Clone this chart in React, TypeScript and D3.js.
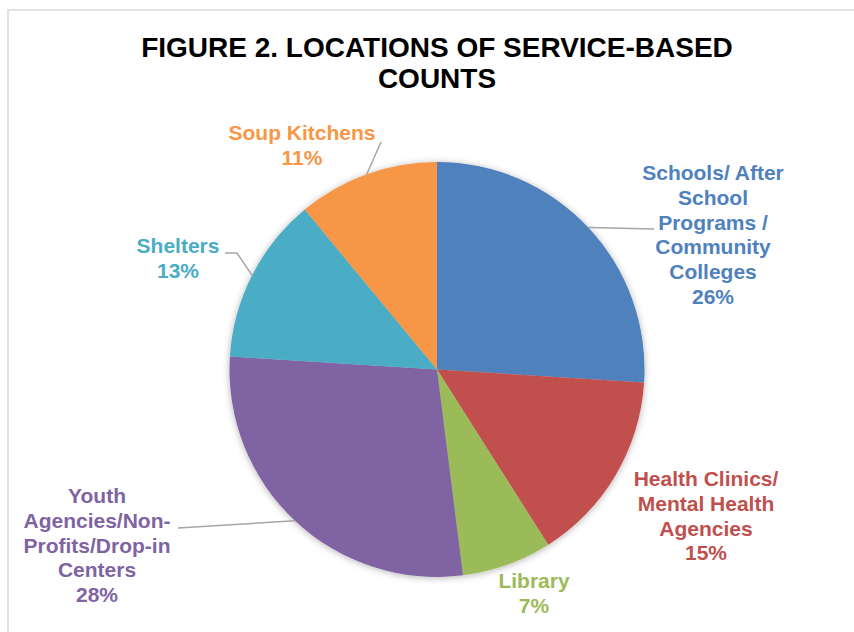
import React from "react";
import * as d3 from "d3";

const categories = [
  "Schools/ After School Programs / Community Colleges",
  "Health Clinics/ Mental Health Agencies",
  "Library",
  "Youth Agencies/Non-Profits/Drop-in Centers",
  "Shelters",
  "Soup Kitchens",
];
const values = [26, 15, 7, 28, 13, 11];
const labelLines = [
  ["Schools/ After", "School", "Programs /", "Community", "Colleges"],
  ["Health Clinics/", "Mental Health", "Agencies"],
  ["Library"],
  ["Youth", "Agencies/Non-", "Profits/Drop-in", "Centers"],
  ["Shelters"],
  ["Soup Kitchens"],
];
const colors = ["#4F81BD", "#C0504D", "#9BBB59", "#8064A2", "#4BACC6", "#F79646"];
const titleLines = ["FIGURE 2. LOCATIONS OF SERVICE-BASED", "COUNTS"];

// layout: label centre x, first baseline y, leader-line path end points
const labelLayout = [
  { x: 713, y: 180, leader: [[654, 229]] },
  { x: 706, y: 486, leader: null },
  { x: 534, y: 588, leader: null },
  { x: 97, y: 503, leader: [[178, 528]] },
  { x: 178, y: 253, leader: [[237, 253], [225, 253]] },
  { x: 302, y: 140, leader: [[381, 142]] },
];

const W = 854;
const H = 632;
const cx = 437;
const cy = 369.5;
const R = 207.5;
const FONT = "'Liberation Sans', Arial, sans-serif";

export default function App() {
  const pie = d3.pie<number>().sort(null).value((d) => d)(values);
  const arc = d3.arc<d3.PieArcDatum<number>>().innerRadius(0).outerRadius(R);
  const total = d3.sum(values);
  const lh = 24.8;

  return (
    <svg
      width={W}
      height={H}
      style={{ position: "absolute", left: 0, top: 0, background: "#fff" }}
      fontFamily={FONT}
    >
      <defs>
        <filter id="sh" x="-20%" y="-20%" width="140%" height="140%">
          <feDropShadow dx="0" dy="1" stdDeviation="3.5" floodColor="#000" floodOpacity="0.3" />
        </filter>
      </defs>
      <rect x={8} y={10} width={W + 20} height={H + 20} fill="none" stroke="#d9d9d9" strokeWidth={1.5} />
      {titleLines.map((t, i) => (
        <text
          key={i}
          x={cx}
          y={57 + i * 31}
          textAnchor="middle"
          fontSize={28}
          fontWeight="bold"
          fill="#000"
        >
          {t}
        </text>
      ))}
      <g transform={`translate(${cx},${cy})`}>
        <g filter="url(#sh)">
          {pie.map((d, i) => (
            <path key={i} d={arc(d) || ""} fill={colors[i]} />
          ))}
        </g>
        {pie.map((d, i) => {
          const lay = labelLayout[i];
          if (!lay.leader) return null;
          const mid = (d.startAngle + d.endAngle) / 2;
          const p0: [number, number] = [R * Math.sin(mid), -R * Math.cos(mid)];
          const pts: [number, number][] = [p0, ...lay.leader.map((p) => [p[0] - cx, p[1] - cy] as [number, number])];
          const line = d3.line()(pts) || "";
          return <path key={"l" + i} d={line} fill="none" stroke="#a6a6a6" strokeWidth={1.5} />;
        })}
      </g>
      {pie.map((d, i) => {
        const lay = labelLayout[i];
        const lines = [...labelLines[i], `${Math.round((values[i] / total) * 100)}%`];
        return (
          <text
            key={"t" + i}
            textAnchor="middle"
            fontSize={21}
            fontWeight="bold"
            fill={colors[i]}
          >
            {lines.map((ln, j) => (
              <tspan key={j} x={lay.x} y={lay.y + j * lh}>
                {ln}
              </tspan>
            ))}
          </text>
        );
      })}
    </svg>
  );
}
